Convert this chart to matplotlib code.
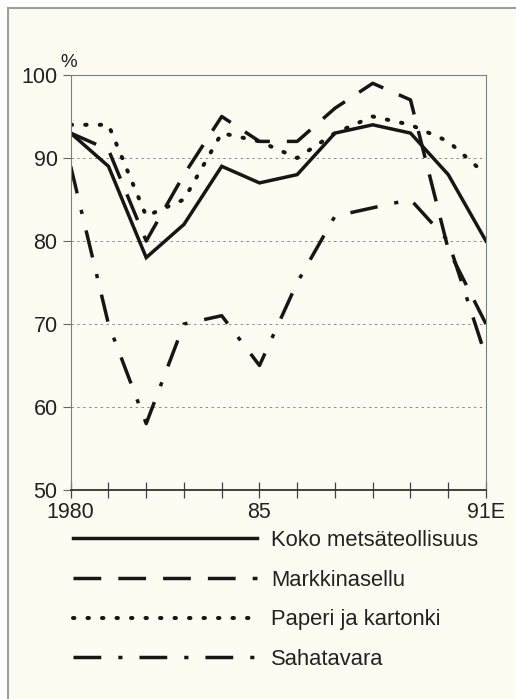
import matplotlib
matplotlib.use('Agg')
import matplotlib.pyplot as plt
from matplotlib.patches import Rectangle

# === Data (capacity utilisation, %) ===
years = list(range(1980, 1992))
koko = [93, 89, 78, 82, 89, 87, 88, 93, 94, 93, 88, 80]
markkinasellu = [93, 91, 80, 88, 95, 92, 92, 96, 99, 97, 79, 70]
paperi = [94, 94, 83, 85, 93, 92, 90, 93, 95, 94, 92, 88]
sahatavara = [89, 70, 58, 70, 71, 65, 75, 83, 84, 85, 80, 66]

labels = ['Koko metsäteollisuus', 'Markkinasellu', 'Paperi ja kartonki', 'Sahatavara']
xtick_labels = {1980: '1980', 1985: '85', 1991: '91E'}
yticks = [50, 60, 70, 80, 90, 100]

plt.rcParams['font.family'] = ['Liberation Sans', 'DejaVu Sans']

W, H = 516, 699
fig = plt.figure(figsize=(W / 100, H / 100), dpi=100)
fig.patch.set_facecolor('white')

# === Cream panel behind everything ===
panel = Rectangle((7.5 / W, -0.05), 1.2, 1 - 7.5 / H + 0.05,
                  transform=fig.transFigure, facecolor='#fcfcf3',
                  edgecolor='#9aa0a0', lw=1.5, zorder=-10)
fig.patches.append(panel)

ax = fig.add_axes([70.7 / W, 1 - 490 / H, (486 - 70.7) / W, (490 - 75) / H])
ax.set_facecolor('none')

ink = '#161616'
lw = 2.5
ax.plot(years, koko, color=ink, lw=lw, solid_joinstyle='miter', label=labels[0])
ax.plot(years, markkinasellu, color=ink, lw=lw, linestyle=(0, (8.0, 4.9)),
        dash_capstyle='butt', label=labels[1])
ax.plot(years, paperi, color=ink, lw=2.9, linestyle=(0, (0.35, 3.25)),
        dash_capstyle='round', label=labels[2])
ax.plot(years, sahatavara, color=ink, lw=lw, linestyle=(0, (8.0, 4.9, 1.2, 4.9)),
        dash_capstyle='butt', label=labels[3])

# === Axes formatting ===
ax.set_xlim(1980, 1991)
ax.set_ylim(50, 100)
ax.set_xticks(years)
ax.set_xticklabels([xtick_labels.get(y, '') for y in years])
ax.set_yticks(yticks)
ax.set_yticklabels([str(v) for v in yticks])

for v in yticks[1:-1]:
    ax.axhline(v, color='#8a8a8a', lw=0.7, linestyle=(0, (2.5, 3.5)), zorder=0)

for side in ['top', 'right', 'left']:
    ax.spines[side].set_color('#7a7f7f')
    ax.spines[side].set_linewidth(0.8)
ax.spines['bottom'].set_color('#333333')
ax.spines['bottom'].set_linewidth(1.3)

ax.tick_params(axis='x', direction='inout', length=11, width=0.9, color='#444444',
               labelsize=15.5, pad=3, labelcolor='#222222')
ax.tick_params(axis='y', direction='out', length=6, width=0.8, color='#666666',
               labelsize=15.5, pad=3.5, labelcolor='#222222')

ax.text(-0.004, 1.02, '%', transform=ax.transAxes, ha='center', va='baseline',
        fontsize=13.5, color='#222222')

# === Legend below the plot ===
fs = 15.8
fig.legend(loc='upper left', bbox_to_anchor=(73 / W, 1 - 530 / H),
           frameon=False, fontsize=fs, handlelength=8.4, handletextpad=0.62,
           labelspacing=0.85, borderpad=0, borderaxespad=0, labelcolor='#222222')

fig.savefig('out.png', dpi=100, facecolor='white')
